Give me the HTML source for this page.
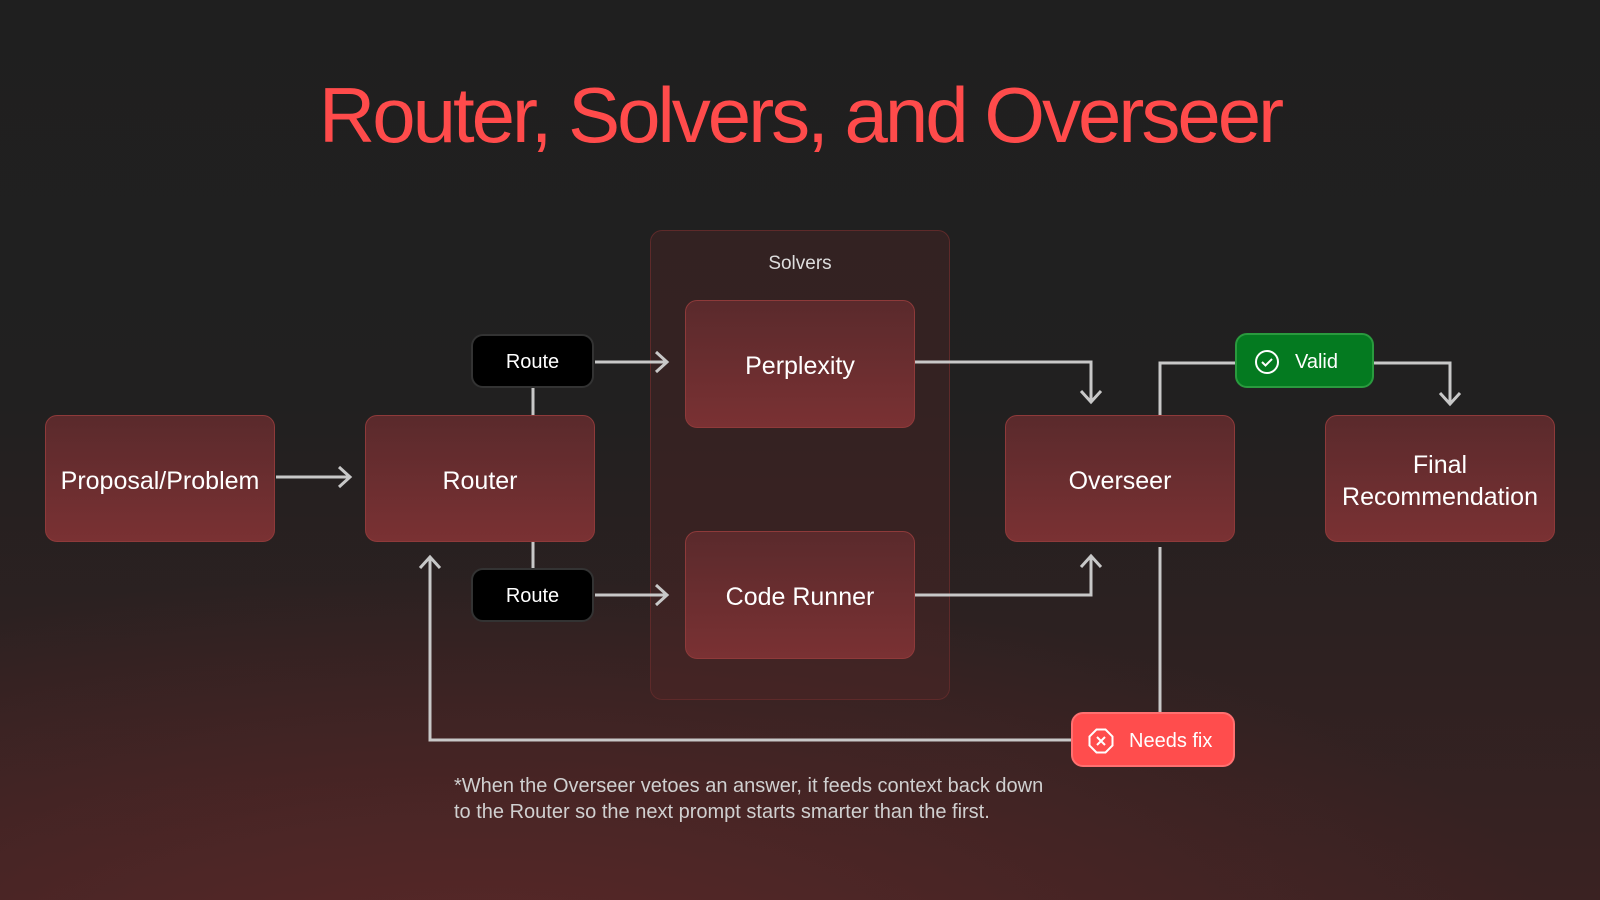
<!DOCTYPE html>
<html><head><style>
body{margin:0;width:1600px;height:900px;overflow:hidden;font-family:"Liberation Sans",sans-serif;
background:radial-gradient(ellipse 1100px 420px at 30% 110%,#5a2828 0%,rgba(90,40,40,0) 100%),linear-gradient(#1f1f1f 0%,#212020 45%,#3a2222 100%);position:relative}
.t{position:absolute;left:0;width:1600px;top:70px;text-align:center;color:#ff4b4b;font-size:78px;letter-spacing:-3px}
.b{position:absolute;box-sizing:border-box;border:1.5px solid #8e3a3a;border-radius:12px;background:linear-gradient(#5a2a2c,#7a3133);color:#fff;font-size:25px;display:flex;align-items:center;justify-content:center;text-align:center;line-height:32px;padding-top:4px}
.sv{position:absolute;left:650px;top:230px;width:300px;height:470px;box-sizing:border-box;border:1.5px solid #5e2a2a;border-radius:12px;background:rgba(90,40,40,.35)}
.p{position:absolute;box-sizing:border-box;border-radius:12px;color:#fff;font-size:20px;display:flex;align-items:center;justify-content:center;padding-top:3px}
.r{background:#000;border:2px solid #333;width:123px;height:54px;left:471px}
svg{position:absolute;left:0;top:0}
.f{position:absolute;left:454px;top:773px;color:#d0d0d0;font-size:20px;line-height:26px;letter-spacing:0px}
</style></head><body>
<div class="t">Router, Solvers, and Overseer</div>
<div class="sv"></div>
<div style="position:absolute;left:650px;width:300px;top:253px;text-align:center;color:#ddd;font-size:19px">Solvers</div>
<svg width="1600" height="900" fill="none" stroke="#c8c8c8" stroke-width="3">
<path d="M276 477H350M339 467l11 10-11 10"/>
<path d="M533 388V415M533 542V568"/>
<path d="M595 362H667M656 352l11 10-11 10M595 595H667M656 585l11 10-11 10"/>
<path d="M914 362H1091V402M1081 391l10 11 10-11"/>
<path d="M914 595H1091V557M1081 567l10-11 10 11"/>
<path d="M1160 415V363H1236M1374 363H1450V404M1440 393l10 11 10-11"/>
<path d="M1160 547V712M1071 740H430V558M420 568l10-11 10 11"/>
</svg>
<div class="b" style="left:45px;top:415px;width:230px;height:127px">Proposal/Problem</div>
<div class="b" style="left:365px;top:415px;width:230px;height:127px">Router</div>
<div class="b" style="left:685px;top:300px;width:230px;height:128px">Perplexity</div>
<div class="b" style="left:685px;top:531px;width:230px;height:128px">Code Runner</div>
<div class="b" style="left:1005px;top:415px;width:230px;height:127px">Overseer</div>
<div class="b" style="left:1325px;top:415px;width:230px;height:127px">Final<br>Recommendation</div>
<div class="p r" style="top:334px">Route</div>
<div class="p r" style="top:568px">Route</div>
<div class="p" style="left:1235px;top:333px;width:139px;height:55px;background:#047a20;border:2px solid #2a9a3e;justify-content:flex-start;padding-left:16px">
<svg style="position:relative" width="28" height="28" viewBox="0 0 28 28" fill="none" stroke="#fff" stroke-width="2"><circle cx="14" cy="14" r="11"/><path d="M9 14l3.5 3.5L19 11"/></svg><span style="margin-left:14px">Valid</span></div>
<div class="p" style="left:1071px;top:712px;width:164px;height:55px;background:#ff4d4d;border:2px solid #ff7070;justify-content:flex-start;padding-left:14px">
<svg style="position:relative" width="28" height="28" viewBox="0 0 28 28" fill="none" stroke="#fff" stroke-width="2"><path d="M9.5 2.5h9l7 7v9l-7 7h-9l-7-7v-9z"/><path d="M10 10l8 8M18 10l-8 8"/></svg><span style="margin-left:14px">Needs fix</span></div>
<div class="f">*When the Overseer vetoes an answer, it feeds context back down<br>to the Router so the next prompt starts smarter than the first.</div>
</body></html>
